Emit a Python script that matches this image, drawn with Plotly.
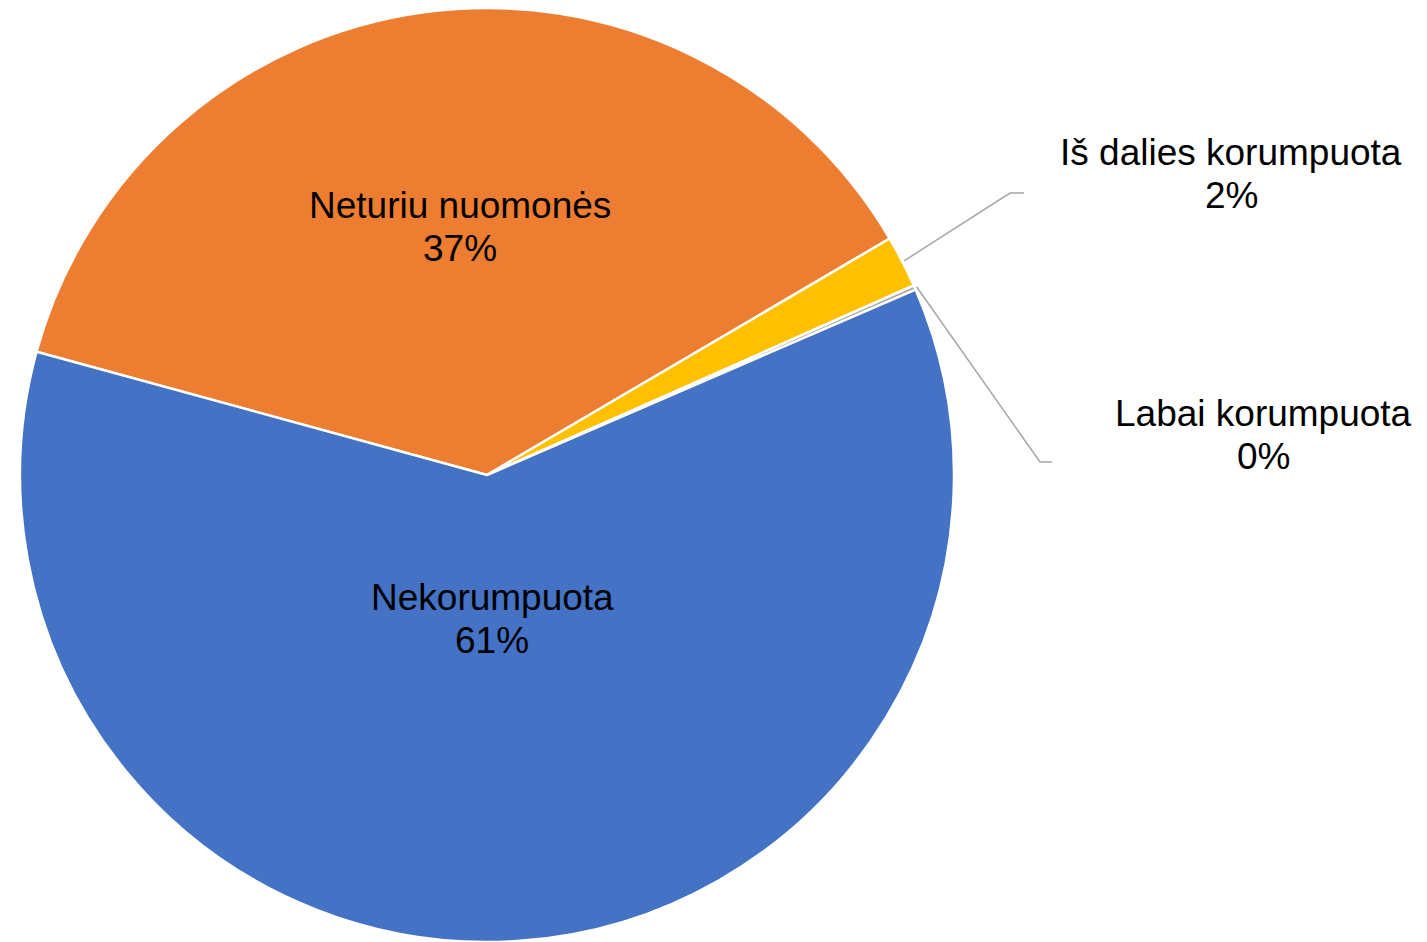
import math
import plotly.graph_objects as go

# ---- data ----
labels = ["Neturiu nuomonės", "Iš dalies korumpuota", "Labai korumpuota", "Nekorumpuota"]
values = [37.3, 1.8, 0.15, 60.75]
colors = ["#ED7D31", "#FFC000", "#A5A5A5", "#4472C4"]

# ---- layout constants (style), given in page pixels ----
W, H = 1427, 942
OFF = 8  # page body margin
CX, CY, R = 487, 475, 467
ROTATION = -74.7
FONT = "Arial, Liberation Sans, sans-serif"
FS = 37
LINE_GAP = 43

# radial fraction and horizontal nudge for inside labels
inside_label = {"Neturiu nuomonės": (0.535, 6), "Nekorumpuota": (0.31, -5)}
outside_pos = {
    "Iš dalies korumpuota": dict(label=(1231, 174), elbow=(1010, 193), end=(1024, 193)),
    "Labai korumpuota": dict(label=(1263, 435), elbow=(1040, 462), end=(1052, 462)),
}


def px(x):
    return (x - OFF) / W


def py(y):
    return 1 - (y - OFF) / H


fcx, fcy = CX - OFF, CY - OFF
fig = go.Figure(
    go.Pie(
        labels=labels,
        values=values,
        sort=False,
        direction="clockwise",
        rotation=ROTATION,
        marker=dict(colors=colors, line=dict(color="white", width=2.5)),
        textinfo="none",
        hoverinfo="label+percent",
        showlegend=False,
        domain=dict(x=[(fcx - R) / W, (fcx + R) / W],
                    y=[max(0, (H - fcy - R) / H), min(1, (H - fcy + R) / H)]),
    )
)

total = sum(values)
annotations = []
shapes = []
angle = ROTATION
for lab, v in zip(labels, values):
    span = v / total * 360
    mid = math.radians(angle + span / 2)
    angle += span
    pct = f"{round(v / total * 100)}%"
    if lab in inside_label:
        rf, nudge = inside_label[lab]
        cx = CX + rf * R * math.sin(mid) + nudge
        cy = CY - rf * R * math.cos(mid)
    else:
        spec = outside_pos[lab]
        cx, cy = spec["label"]
        sx = CX + (R + 2) * math.sin(mid)
        sy = CY - (R + 2) * math.cos(mid)
        ex, ey = spec["elbow"]
        tx, ty = spec["end"]
        path = f"M {px(sx)} {py(sy)} L {px(ex)} {py(ey)} L {px(tx)} {py(ty)}"
        shapes.append(dict(type="path", xref="paper", yref="paper", path=path,
                           line=dict(color="#A6A6A6", width=1.5)))
    for txt, dy in ((lab, -LINE_GAP / 2), (pct, LINE_GAP / 2)):
        annotations.append(dict(
            x=px(cx), y=py(cy + dy), xref="paper", yref="paper",
            text=txt, showarrow=False, xanchor="center", yanchor="middle",
            font=dict(family=FONT, size=FS, color="#000000"),
        ))

fig.update_layout(
    width=W, height=H,
    margin=dict(l=0, r=0, t=0, b=0),
    paper_bgcolor="white",
    plot_bgcolor="white",
    annotations=annotations,
    shapes=shapes,
    font=dict(family=FONT),
)

fig.write_html("out.html")
